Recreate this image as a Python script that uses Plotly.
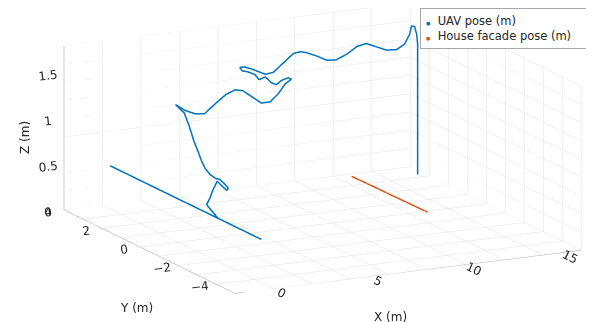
import plotly.graph_objects as go
import numpy as np

# ---------------- data (metres) ----------------
uav_x = [15.63, 15.63, 15.63, 15.63, 15.63, 15.63, 15.58, 15.47, 15.31, 15.21, 14.95, 14.53, 14.00, 13.37,
         12.95, 12.48, 11.96, 11.38, 10.91, 10.38, 9.86, 9.54, 9.18, 8.65, 8.13, 7.71, 7.34, 6.97, 6.60,
         6.39, 6.50, 6.81, 7.18, 7.39, 7.71, 8.02, 8.28, 8.55, 8.91, 9.07, 8.76, 8.39, 7.97, 7.50, 7.08,
         6.55, 6.13, 5.66, 5.14, 4.56, 4.09, 3.56, 3.04,
         3.24, 3.23, 3.22, 3.16, 3.09, 3.03, 3.03, 3.07, 3.01, 3.00, 2.94, 2.61, 2.13, 1.60, 1.11, 0.69,
         0.26, 0.30, 0.34, 0.40, 0.35]
uav_y = [3.24] * 53 + [2.98, 2.72, 2.46, 2.19, 1.93, 1.67, 1.41, 1.15, 0.89, 0.62, 0.36, 0.10, -0.16,
                       -0.42, -0.68, -0.95, -1.21, -1.47, -1.73, 4.0, -4.0]
uav_z = [0.00, 0.58, 1.02, 1.27, 1.32, 1.43, 1.54, 1.63, 1.64, 1.55, 1.45, 1.40, 1.41, 1.47, 1.51,
         1.49, 1.42, 1.37, 1.38, 1.44, 1.49, 1.51, 1.50, 1.41, 1.32, 1.31, 1.35, 1.39, 1.42, 1.42,
         1.38, 1.36, 1.32, 1.26, 1.28, 1.21, 1.18, 1.22, 1.24, 1.22, 1.18, 1.08, 1.00, 1.00, 1.07,
         1.16, 1.18, 1.14, 1.06, 0.96, 0.97, 1.02, 1.10,
         1.03, 0.92, 0.78, 0.70, 0.62, 0.56, 0.52, 0.50, 0.52, 0.50, 0.48, 0.49, 0.57, 0.67, 0.61,
         0.56, 0.53, 0.48, 0.43, 0.42, 0.43]

house_x = [12.75, 12.85]
house_y = [3.80, -0.10]
house_z = [0.0, 0.0]

series_names = ["UAV pose (m)", "House facade pose (m)"]
axis_titles = ["X (m)", "Y (m)", "Z (m)"]
x_ticks = [0, 5, 10, 15]
y_ticks = [-4, -2, 0, 2, 4]
z_ticks = [0, 0.5, 1, 1.5]
x_range = [-2, 16]
y_range = [-5, 4]
z_range = [0, 1.8]
n_div = 9

BLUE = "#0072BD"
ORANGE = "#D95319"
FONT = "DejaVu Sans"
TXT = "#262626"

fig = go.Figure()

# ---- grid on the three back planes (MATLAB style) ----
xs = np.linspace(*x_range, n_div + 1)
ys = np.linspace(*y_range, n_div + 1)
zs = np.linspace(*z_range, n_div + 1)
gx, gy, gz = [], [], []
x0, x1 = x_range
y0, y1 = y_range
z0, z1 = z_range
def seg(a, b):
    gx.extend([a[0], b[0], None]); gy.extend([a[1], b[1], None]); gz.extend([a[2], b[2], None])
for xv in xs:
    seg((xv, y1, z0), (xv, y1, z1))   # back wall vertical
    seg((xv, y0, z0), (xv, y1, z0))   # floor
for yv in ys:
    seg((x1, yv, z0), (x1, yv, z1))   # right wall vertical
    seg((x0, yv, z0), (x1, yv, z0))   # floor
for zv in zs:
    seg((x0, y1, zv), (x1, y1, zv))   # back wall horizontal
    seg((x1, y0, zv), (x1, y1, zv))   # right wall horizontal
fig.add_trace(go.Scatter3d(x=gx, y=gy, z=gz, mode="lines", line=dict(color="#e3e3e3", width=1),
                           hoverinfo="skip", showlegend=False))
# axis lines
ax_x, ax_y, ax_z = [], [], []
for a, b in [((x0, y0, z0), (x1, y0, z0)), ((x0, y0, z0), (x0, y1, z0)), ((x0, y1, z0), (x0, y1, z1))]:
    ax_x.extend([a[0], b[0], None]); ax_y.extend([a[1], b[1], None]); ax_z.extend([a[2], b[2], None])
fig.add_trace(go.Scatter3d(x=ax_x, y=ax_y, z=ax_z, mode="lines", line=dict(color="#a0a0a0", width=1),
                           hoverinfo="skip", showlegend=False))

# ---- data ----
fig.add_trace(go.Scatter3d(x=uav_x, y=uav_y, z=uav_z, mode="lines", line=dict(color=BLUE, width=3),
                           name=series_names[0], showlegend=False, hoverinfo="skip"))
fig.add_trace(go.Scatter3d(x=house_x, y=house_y, z=house_z, mode="lines", line=dict(color=ORANGE, width=3),
                           name=series_names[1], showlegend=False, hoverinfo="skip"))

# MATLAB-like legend box (dot markers)
legend_text = "<br>".join(
    f"<span style='color:{c};font-size:5px'>●</span>  {n}" for c, n in zip([BLUE, ORANGE], series_names))
fig.add_annotation(xref="paper", yref="paper", x=0.988, y=1.0, xanchor="right", yanchor="top",
                   text=legend_text, showarrow=False, align="left", bgcolor="white", width=163,
                   bordercolor="#a8a8a8", borderwidth=1, borderpad=5,
                   font=dict(family=FONT, size=11.5, color=TXT))

# axis titles placed like MATLAB's
for txt, px, py, ang in [(axis_titles[0], 382, 309, 0), (axis_titles[1], 128, 300, 0), (axis_titles[2], 17, 130, -90)]:
    fig.add_annotation(xref="paper", yref="paper", x=px / 594, y=1 - py / 322, xanchor="center", yanchor="middle",
                       text=txt, showarrow=False, textangle=ang, font=dict(family=FONT, size=12, color=TXT))

axis_common = dict(showgrid=False, zeroline=False, showbackground=False, showline=False, ticks="",
                   showspikes=False, title=dict(text=""), tickfont=dict(family=FONT, size=12, color=TXT))

s = 2.41
theta = np.radians(26.8)
el = np.radians(14.3)
edir = np.array([-np.cos(el) * np.sin(theta), -np.cos(el) * np.cos(theta), np.sin(el)])
R = np.array([np.cos(theta), -np.sin(theta), 0.0])
U = np.array([np.sin(el) * np.sin(theta), np.sin(el) * np.cos(theta), np.cos(el)])
cen = -R * 0.110 - U * 0.13
ed = cen + edir * 2.0
fig.update_layout(
    width=594, height=322,
    margin=dict(l=0, r=0, t=0, b=0),
    paper_bgcolor="white",
    font=dict(family=FONT, size=12, color=TXT),
    scene=dict(
        domain=dict(x=[0, 1], y=[0, 1]),
        xaxis=dict(range=x_range, tickvals=x_ticks, **axis_common),
        yaxis=dict(range=y_range, tickvals=y_ticks, **axis_common),
        zaxis=dict(range=z_range, tickvals=z_ticks, **axis_common),
        aspectmode="manual",
        aspectratio=dict(x=1 * s, y=0.978 * s, z=0.436 * s),
        camera=dict(eye=dict(x=ed[0], y=ed[1], z=ed[2]), center=dict(x=cen[0], y=cen[1], z=cen[2]),
                    up=dict(x=0, y=0, z=1), projection=dict(type="orthographic")),
    ),
    showlegend=False,
)
fig.write_html("out.html")
